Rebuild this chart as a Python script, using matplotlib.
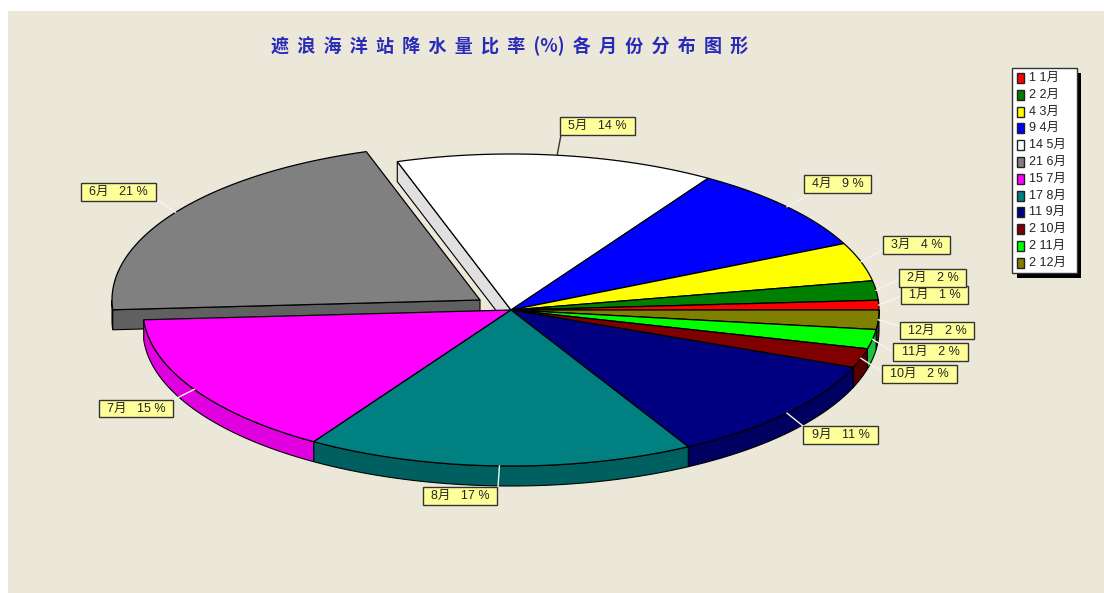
import numpy as np
from matplotlib import pyplot as plt
from matplotlib.patches import Rectangle

plt.rcParams['font.family'] = ['Liberation Sans', 'Noto Sans CJK SC']

months = ['1月', '2月', '3月', '4月', '5月', '6月', '7月', '8月', '9月', '10月', '11月', '12月']
values = [1, 2, 4, 9, 14, 21, 15, 17, 11, 2, 2, 2]
colors = ['#ff0000', '#008000', '#ffff00', '#0000ff', '#ffffff', '#808080',
          '#ff00ff', '#008080', '#000080', '#800000', '#00ff00', '#808000']
wall_colors = ['#b00000', '#005a00', '#b0b000', '#0000a0', '#e0e0e0', '#606060',
               '#e000e0', '#006060', '#000060', '#580000', '#20c040', '#303010']
title = '遮  浪  海  洋  站  降  水  量  比  率  (%)  各  月  份  分  布  图  形'

# pie layout in pixels
cx, cy = 511, 310
rx, ry = 368, 156
depth = 20
explode_dx, explode_dy = -31, -10
exploded = 5

# label boxes: left, top, right, bottom, leader end x, leader end y
label_boxes = [(901, 286, 968, 304, 901, 296), (899, 269, 966, 287, 899, 279),
               (883, 236, 950, 254, 883, 250), (804, 175, 871, 193, 812, 193),
               (560, 117, 635, 135, 561, 135), (81, 183, 156, 201, 156, 199),
               (99, 400, 173, 417, 173, 400), (423, 487, 497, 505, 498, 487),
               (803, 426, 878, 444, 803, 426), (882, 365, 957, 383, 882, 372),
               (893, 343, 968, 361, 893, 352), (900, 322, 974, 339, 900, 326)]

bg = '#ebe8da'


def arc(a1, a2, dx=0, dy=0):
    t = np.radians(np.linspace(a1, a2, 120))
    return cx + dx + rx * np.cos(t), cy + dy - ry * np.sin(t)


fig = plt.figure(figsize=(11.04, 5.93), dpi=100)
ax = fig.add_axes([0, 0, 1, 1])
ax.set_xlim(0, 1104)
ax.set_ylim(593, 0)
ax.axis('off')
ax.add_patch(Rectangle((8, 11), 1096, 582, facecolor=bg, edgecolor='none', zorder=0))

edges = np.cumsum([0] + values) * 3.6
order = [5, 4, 3, 2, 1, 0, 6, 11, 10, 9, 8, 7]

for z, i in enumerate(order):
    a1, a2 = edges[i], edges[i + 1]
    dx, dy = (explode_dx, explode_dy) if i == exploded else (0, 0)
    base = 2 + z * 3
    # side wall along the rim, only the front half shows
    lo, hi = max(a1, 180), min(a2, 360)
    if lo < hi:
        x, y = arc(lo, hi, dx, dy)
        ax.fill(np.r_[x, x[::-1]], np.r_[y, y[::-1] + depth], facecolor=wall_colors[i],
                edgecolor='black', linewidth=0.8, zorder=base)
    # cut faces that can be seen next to the exploded slice
    if i == exploded:
        x, y = arc(a2, a2, dx, dy)
        ax.fill([x[0], x[0], cx + dx, cx + dx], [y[0], y[0] + depth, cy + dy + depth, cy + dy],
                facecolor=wall_colors[i], edgecolor='black', linewidth=0.8, zorder=base)
    if i == 4:
        x, y = arc(a2, a2)
        ax.fill([x[0], x[0], cx, cx], [y[0], y[0] + depth, cy + depth, cy],
                facecolor=wall_colors[i], edgecolor='black', linewidth=0.8, zorder=base)
    x, y = arc(a1, a2, dx, dy)
    ax.fill(np.r_[cx + dx, x], np.r_[cy + dy, y], facecolor=colors[i],
            edgecolor='black', linewidth=0.9, zorder=base + 1)

# leader lines and yellow labels
for i, box in enumerate(label_boxes):
    l, t, r, b, ex, ey = box
    mid = (edges[i] + edges[i + 1]) / 2
    dx, dy = (explode_dx, explode_dy) if i == exploded else (0, 0)
    x, y = arc(mid, mid, dx, dy)
    line_color = '#333333' if i == 4 else '#f4f4f0'
    ax.plot([x[0], ex], [y[0], ey], color=line_color, linewidth=1, zorder=60)
    ax.add_patch(Rectangle((l, t), r - l, b - t, facecolor='#ffff99', edgecolor='#333333',
                           linewidth=1, zorder=61))
    ax.text((l + r) / 2, (t + b) / 2, f'{months[i]}   {values[i]} %', fontsize=9,
            ha='center', va='center', color='#222222', zorder=62)

# legend with black shadow
ax.add_patch(Rectangle((1017, 73), 64, 205, facecolor='black', edgecolor='none', zorder=70))
ax.add_patch(Rectangle((1012, 68), 65, 205, facecolor='white', edgecolor='#333333',
                       linewidth=1, zorder=71))
for i, m in enumerate(months):
    y = 78 + i * 16.8
    ax.add_patch(Rectangle((1017, y - 5), 7, 10, facecolor=colors[i], edgecolor='#222222',
                           linewidth=1, zorder=72))
    ax.text(1029, y, f'{values[i]} {m}', fontsize=9, ha='left', va='center',
            color='#222222', zorder=72)

ax.text(510, 46, title, fontsize=13, fontweight='bold', color='#2a2ab8',
        ha='center', va='center', family=['Noto Sans CJK SC', 'DejaVu Sans'], zorder=80)

fig.savefig('out.png', dpi=100)
